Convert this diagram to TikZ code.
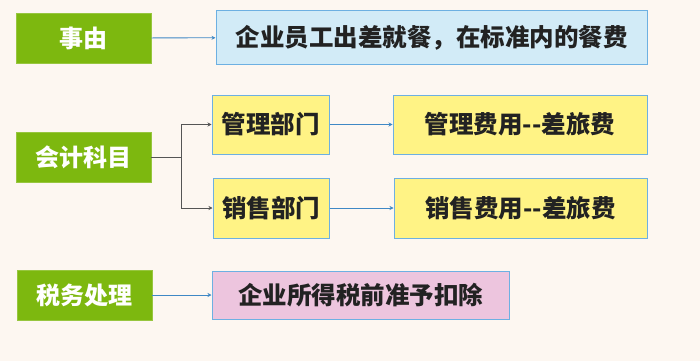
\documentclass[tikz,border=0pt]{standalone}
\usepackage{fontspec}
\setmainfont{Noto Sans CJK SC}
\usepackage{xcolor}
\usetikzlibrary{positioning}
\usetikzlibrary{arrows.meta}

\definecolor{bgcream}{HTML}{FDF7F1}
\definecolor{leafgreen}{HTML}{7DB80F}
\definecolor{skyfill}{HTML}{D2EBF7}
\definecolor{lemonfill}{HTML}{FFF385}
\definecolor{rosefill}{HTML}{EDC5DE}
\definecolor{edgeblue}{HTML}{6DB0E2}
\definecolor{linkblue}{HTML}{3F88C5}
\definecolor{linkgray}{HTML}{555555}
\definecolor{inkdark}{HTML}{222222}

\tikzset{
  itembox/.style={draw=edgeblue, line width=1pt, text=inkdark, inner sep=0pt,
    font=\fontsize{24.5}{27}\selectfont\bfseries},
  headbox/.style={fill=leafgreen, draw=leafgreen!80!white, line width=0.8pt, text=white,
    minimum width=135pt, minimum height=50pt, inner sep=0pt,
    font=\fontsize{24}{26}\selectfont\bfseries},
  bluelink/.style={draw=linkblue, line width=0.8pt, -{Stealth[length=4pt,width=4pt]}},
  graylink/.style={draw=linkgray, line width=0.8pt, -{Stealth[length=4pt,width=4pt]}},
}

\begin{document}
\begin{tikzpicture}[x=1pt,y=-1pt]
        % background
        \fill[bgcream] (0,0) rectangle (700,361);
        \useasboundingbox (0,0) rectangle (700,361);

        % left column
        \node[headbox] (cause) at (83.5,38) {事由};
        \node[headbox] (acct) at (83.5,157) {会计科目};
        \node[headbox] (tax) at (84.5,295) {税务处理};

        % right boxes
        \node[itembox, fill=skyfill, minimum width=431pt, minimum height=53pt] (desc) at (431.5,37.5) {企业员工出差就餐，在标准内的餐费};
        \node[itembox, fill=lemonfill, minimum width=117pt, minimum height=59pt] (mgmt) at (270.5,124.5) {管理部门};
        \node[itembox, fill=lemonfill, minimum width=116pt, minimum height=60pt] (sales) at (271,208) {销售部门};
        \node[itembox, fill=lemonfill, minimum width=254pt, minimum height=59pt] (mgmtfee) at (520,124.5) {管理费用-{}-差旅费};
        \node[itembox, fill=lemonfill, minimum width=253pt, minimum height=60pt] (salesfee) at (520.5,208) {销售费用-{}-差旅费};
        \node[itembox, fill=rosefill, minimum width=297pt, minimum height=48pt] (deduct) at (360.5,295) {企业所得税前准予扣除};

        % links
        \coordinate (fork) at (181,157);
        \draw[bluelink] (cause) -- (desc);
        \draw[line width=0.8pt, linkgray] (acct) -- (fork);
        \draw[graylink] (fork) |- (mgmt);
        \draw[graylink] (fork) |- (sales);
        \draw[bluelink] (mgmt) -- (mgmtfee);
        \draw[bluelink] (sales) -- (salesfee);
        \draw[bluelink] (tax) -- (deduct);
    \end{tikzpicture}
\end{document}
